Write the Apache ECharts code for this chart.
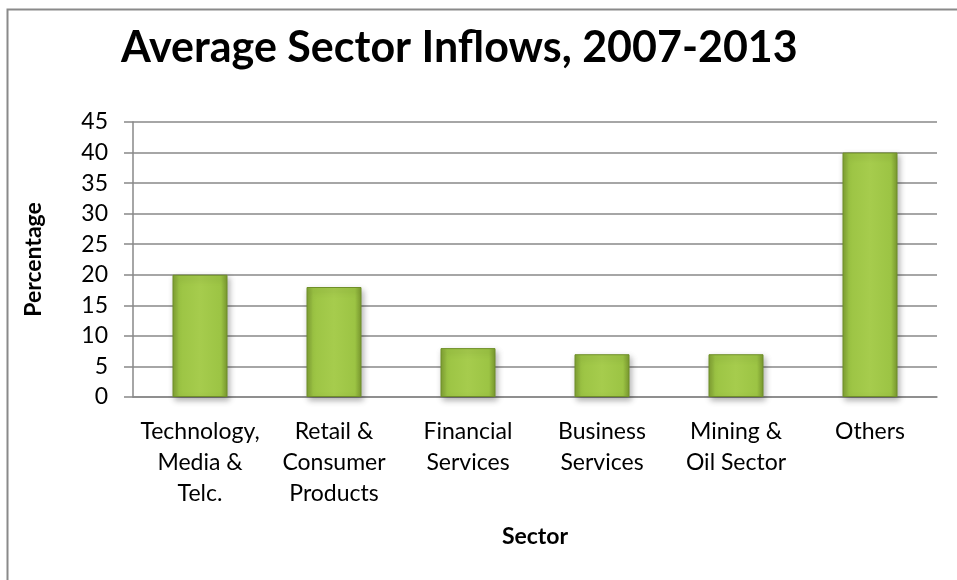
<!DOCTYPE html>
<html>
<head>
<meta charset="utf-8">
<script src="https://cdn.jsdelivr.net/npm/echarts@6/dist/echarts.min.js"></script>
<style>
  html, body { margin: 0; padding: 0; background: #fff; }
  #chart { width: 957px; height: 580px; }
</style>
</head>
<body>
<div id="chart"></div>
<script>
// Sector categories (line breaks follow the axis label wrapping)
const sectors = [
  'Technology,\nMedia &\nTelc.',
  'Retail &\nConsumer\nProducts',
  'Financial\nServices',
  'Business\nServices',
  'Mining &\nOil Sector',
  'Others'
];
// Average inflow share per sector, percent
const inflowPct = [20, 18, 8, 7, 7, 40];

const FONT = 'Lato, "Open Sans", sans-serif';

const chart = echarts.init(document.getElementById('chart'), null, { renderer: 'canvas' });

const barFill = new echarts.graphic.LinearGradient(0, 0, 1, 0, [
  { offset: 0, color: '#7f9f33' },
  { offset: 0.12, color: '#9cc444' },
  { offset: 0.5, color: '#a6cc4d' },
  { offset: 0.88, color: '#9cc444' },
  { offset: 1, color: '#7a992f' }
]);

chart.setOption({
  animation: false,
  backgroundColor: '#ffffff',
  title: {
    text: 'Average Sector Inflows, 2007-2013',
    left: 116,
    top: 22,
    textStyle: { fontFamily: FONT, fontWeight: 'bold', fontSize: 43, color: '#000' }
  },
  graphic: [{
    type: 'rect',
    shape: { x: 7.5, y: 9.5, width: 980, height: 620 },
    style: { fill: 'none', stroke: '#8a8a8a', lineWidth: 2 },
    silent: true
  }],
  grid: { left: 133, right: 20, top: 122, bottom: 183 },
  xAxis: {
    type: 'category',
    data: sectors,
    name: 'Sector',
    nameLocation: 'middle',
    nameGap: 128,
    nameTextStyle: { fontFamily: FONT, fontWeight: 'bold', fontSize: 23, color: '#000' },
    axisLine: { lineStyle: { color: '#888', width: 1.5 } },
    axisTick: { show: false },
    axisLabel: {
      interval: 0,
      margin: 19,
      fontFamily: FONT,
      fontSize: 23,
      lineHeight: 31,
      color: '#000',
      verticalAlign: 'top'
    }
  },
  yAxis: {
    type: 'value',
    min: 0,
    max: 45,
    interval: 5,
    name: 'Percentage',
    nameLocation: 'middle',
    nameGap: 88,
    nameTextStyle: { fontFamily: FONT, fontWeight: 'bold', fontSize: 23, color: '#000' },
    axisLine: { show: true, lineStyle: { color: '#888', width: 1.5 } },
    axisTick: { show: true, length: 9, lineStyle: { color: '#888', width: 1.5 } },
    axisLabel: { margin: 25, fontFamily: FONT, fontSize: 23, color: '#000' },
    splitLine: { show: true, lineStyle: { color: '#888', width: 1.5 } }
  },
  series: [{
    type: 'bar',
    data: inflowPct,
    barWidth: 55,
    itemStyle: {
      color: barFill,
      borderColor: '#6f8f28',
      borderWidth: 1,
      shadowColor: 'rgba(0,0,0,0.3)',
      shadowBlur: 6,
      shadowOffsetX: 2,
      shadowOffsetY: 3
    }
  }]
});
</script>
</body>
</html>
